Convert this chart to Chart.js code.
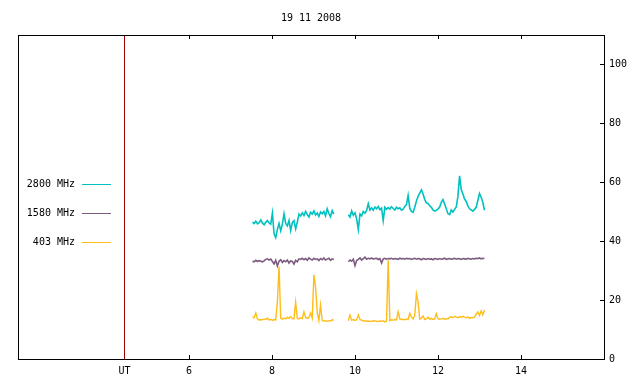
<!DOCTYPE html>
<html>
<head>
<meta charset="utf-8">
<script src="https://cdn.jsdelivr.net/npm/chart.js@4/dist/chart.umd.min.js"></script>
<style>
  html, body { margin: 0; padding: 0; background: #fff; }
  #radioChart { display: block; }
</style>
</head>
<body>
<canvas id="radioChart" width="640" height="384"></canvas>
<script>
// observation day and axis ticks
const chartTitle = '19 11 2008';
const xTickValues = [6, 8, 10, 12, 14];
const yTickValues = [0, 20, 40, 60, 80, 100];
const utHour = 4.446;

// two recording sessions, sampled every 0.04 h
const session1Start = 7.53;
const session2Start = 9.84;
const sampleStep = 0.04;

const seriesLabels = ['2800 MHz', '1580 MHz', '403 MHz'];

const flux2800a = [46.5, 46.0, 46.8, 45.9, 46.3, 47.2, 46.1, 45.6, 46.4, 47.0,
  46.2, 45.8, 49.5, 42.5, 41.2, 44.0, 46.0, 43.5, 45.8, 49.3,
  46.0, 45.2, 47.0, 43.6, 46.4, 47.0, 44.2, 46.5, 49.2, 48.5,
  49.6, 48.7, 50.1, 49.0, 48.2, 49.8, 49.2, 50.3, 48.9, 49.6,
  48.4, 49.9, 49.3, 50.1, 48.6, 51.0, 49.4, 48.3, 50.4, 49.2];
const flux2800b = [49.0, 48.2, 50.3, 48.8, 49.6, 47.5, 44.0, 49.2, 48.6, 50.1,
  49.5, 50.4, 52.7, 50.6, 51.3, 50.5, 51.6, 51.0, 51.8, 50.7,
  51.2, 47.0, 51.5, 50.8, 51.4, 50.9, 51.7, 51.1, 50.6, 51.5,
  51.0, 51.3, 50.5, 50.9, 51.8, 52.4, 55.5, 51.2, 50.1, 49.8,
  51.5, 53.6, 55.2, 56.3, 57.4, 56.0, 54.2, 53.0, 52.8, 52.0,
  51.5, 50.6, 50.2, 50.5, 50.9, 51.6, 53.2, 54.1, 52.6, 51.0,
  49.3, 49.0, 50.6, 49.9, 50.8, 51.6, 55.2, 62.2, 57.5, 56.0,
  54.3, 53.5, 52.0, 51.0, 50.6, 50.2, 50.8, 51.5, 53.8, 56.2,
  54.9, 53.2, 50.5];

const flux1580a = [33.2, 33.0, 33.5, 33.1, 33.4, 33.2, 33.0, 33.3, 33.8, 34.0,
  33.6, 33.9, 33.1, 32.3, 33.5, 31.6, 33.2, 33.7, 32.8, 33.4,
  33.0, 33.6, 32.6, 33.3, 33.1, 32.2, 33.5, 33.0, 34.0, 33.8,
  34.2, 33.7, 34.1, 33.5, 34.3, 33.9, 33.6, 34.2, 33.8, 34.0,
  33.4, 34.1, 33.7, 34.3, 33.6, 33.9, 34.2, 33.5, 34.0, 33.8];
const flux1580b = [33.0, 33.6, 33.2, 33.9, 31.7, 33.4, 33.8, 34.3, 33.6, 34.1,
  34.6, 33.9, 34.2, 34.0, 34.3, 33.9, 34.1, 34.2, 33.8, 34.1,
  32.6, 34.0, 34.2, 33.9, 34.1, 34.0, 34.2, 33.9, 34.1, 34.0,
  33.8, 34.2, 34.0, 34.1, 33.9, 34.2, 34.0, 34.1, 33.8, 34.0,
  34.2, 33.9, 34.1, 34.0, 33.7, 34.1, 34.0, 33.8, 34.1, 33.9,
  34.0, 33.7, 34.1, 34.0, 33.8, 34.1, 33.9, 34.0, 34.2, 33.8,
  34.0, 34.1, 33.9, 34.0, 34.2, 33.9, 34.1, 34.0, 33.8, 34.1,
  34.0, 33.9, 34.2, 34.0, 33.9, 34.1, 34.0, 34.2, 34.1, 34.3,
  34.0, 34.2, 34.1];

const flux403a = [14.3, 14.0, 15.6, 13.6, 13.2, 13.4, 13.3, 13.6, 13.4, 13.9,
  13.2, 13.5, 13.1, 13.4, 13.3, 19.4, 31.4, 13.8, 13.5, 13.9,
  13.6, 14.2, 13.8, 14.4, 13.7, 13.6, 19.3, 13.8, 13.6, 14.0,
  13.7, 16.0, 14.2, 13.8, 14.1, 15.6, 13.9, 28.6, 24.4, 15.8,
  13.1, 18.3, 13.0, 12.9, 13.0, 12.8, 13.0, 12.9, 13.3, 13.2];
const flux403b = [13.0, 14.9, 13.2, 13.4, 13.1, 13.3, 15.0, 13.4, 13.2, 12.9,
  13.0, 12.8, 12.9, 12.7, 12.8, 12.9, 13.0, 12.8, 12.7, 12.9,
  12.8, 13.0, 12.6, 12.9, 33.5, 13.0, 13.3, 13.2, 13.4, 13.3,
  16.0, 13.6, 13.4, 13.5, 13.3, 13.6, 13.4, 15.5, 14.3, 13.6,
  14.8, 22.2, 19.4, 13.5, 13.9, 14.6, 13.4, 13.7, 14.2, 13.5,
  13.8, 13.4, 13.6, 15.4, 13.7, 13.5, 13.6, 13.8, 13.5, 13.7,
  13.6, 14.1, 14.3, 14.0, 14.5, 14.2, 14.0, 14.4, 14.1, 14.5,
  14.2, 14.0, 14.3, 13.8, 14.1, 14.0, 14.2, 15.2, 16.0, 14.8,
  16.3, 15.0, 16.6];

// join both sessions with a null point so the gap stays open
function buildSeries(partA, partB) {
  const pts = partA.map((v, i) => ({ x: session1Start + i * sampleStep, y: v }));
  pts.push({ x: (session1Start + partA.length * sampleStep + session2Start) / 2, y: null });
  partB.forEach((v, i) => pts.push({ x: session2Start + i * sampleStep, y: v }));
  return pts;
}

const monoFont = { family: "'DejaVu Sans Mono', monospace", size: 10 };

// frame, inward ticks and left-side key
const framePlugin = {
  id: 'frame',
  afterDraw(chart) {
    const ctx = chart.ctx;
    const a = chart.chartArea;
    const xs = chart.scales.x;
    const ys = chart.scales.y;
    ctx.save();
    ctx.strokeStyle = '#000';
    ctx.lineWidth = 1;
    ctx.strokeRect(Math.round(a.left) + 0.5, Math.round(a.top) + 0.5,
      Math.round(a.right - a.left), Math.round(a.bottom - a.top));
    ctx.beginPath();
    xTickValues.forEach(v => {
      const px = Math.round(xs.getPixelForValue(v)) + 0.5;
      ctx.moveTo(px, a.bottom); ctx.lineTo(px, a.bottom - 4);
      ctx.moveTo(px, a.top); ctx.lineTo(px, a.top + 4);
    });
    yTickValues.forEach(v => {
      if (v === 0) return;
      const py = Math.round(ys.getPixelForValue(v)) + 0.5;
      ctx.moveTo(a.right, py); ctx.lineTo(a.right - 4, py);
    });
    ctx.stroke();

    ctx.font = "10px 'DejaVu Sans Mono', monospace";
    ctx.textAlign = 'right';
    ctx.textBaseline = 'middle';
    chart.data.datasets.forEach((ds, i) => {
      if (!ds.label) return;
      const ky = 184 + i * 29;
      ctx.fillStyle = '#000';
      ctx.fillText(ds.label, 75, ky);
      ctx.strokeStyle = ds.borderColor;
      ctx.beginPath();
      ctx.moveTo(82, ky + 0.5);
      ctx.lineTo(111, ky + 0.5);
      ctx.stroke();
    });
    ctx.restore();
  }
};

const ctx = document.getElementById('radioChart').getContext('2d');
new Chart(ctx, {
  type: 'line',
  data: {
    datasets: [
      { label: seriesLabels[0], data: buildSeries(flux2800a, flux2800b), borderColor: '#00c0c0', borderWidth: 1.6 },
      { label: seriesLabels[1], data: buildSeries(flux1580a, flux1580b), borderColor: '#7b5c7f', borderWidth: 1.6 },
      { label: seriesLabels[2], data: buildSeries(flux403a, flux403b), borderColor: '#ffbd1a', borderWidth: 1.4 },
      { label: '', data: [{ x: utHour, y: 0 }, { x: utHour, y: 110 }], borderColor: '#9b0000', borderWidth: 1 }
    ]
  },
  options: {
    responsive: false,
    animation: false,
    devicePixelRatio: 1,
    spanGaps: false,
    elements: {
      line: { borderWidth: 1, tension: 0 },
      point: { radius: 0 }
    },
    layout: { padding: { left: 18, top: 0, right: 0, bottom: 0 } },
    plugins: {
      legend: { display: false },
      tooltip: { enabled: false },
      title: {
        display: true,
        text: chartTitle,
        fullSize: false,
        color: '#000',
        font: { family: monoFont.family, size: 10, weight: 'normal', lineHeight: 1.2 },
        padding: { top: 12, bottom: 11 }
      }
    },
    scales: {
      x: {
        type: 'linear',
        min: 1.88,
        max: 16,
        grid: { display: false, drawTicks: false },
        border: { display: false },
        afterBuildTicks: s => { s.ticks = [utHour, ...xTickValues].map(v => ({ value: v })); },
        afterFit: s => { s.height = 25; },
        ticks: {
          color: '#000',
          font: monoFont,
          padding: 6,
          maxRotation: 0,
          autoSkip: false,
          callback: v => (v === utHour ? 'UT' : String(v))
        }
      },
      y: {
        position: 'right',
        min: 0,
        max: 110,
        grid: { display: false, drawTicks: false },
        border: { display: false },
        afterBuildTicks: s => { s.ticks = yTickValues.map(v => ({ value: v })); },
        afterFit: s => { s.width = 36; },
        ticks: {
          color: '#000',
          font: monoFont,
          padding: 5
        }
      }
    }
  },
  plugins: [framePlugin]
});
</script>
</body>
</html>
